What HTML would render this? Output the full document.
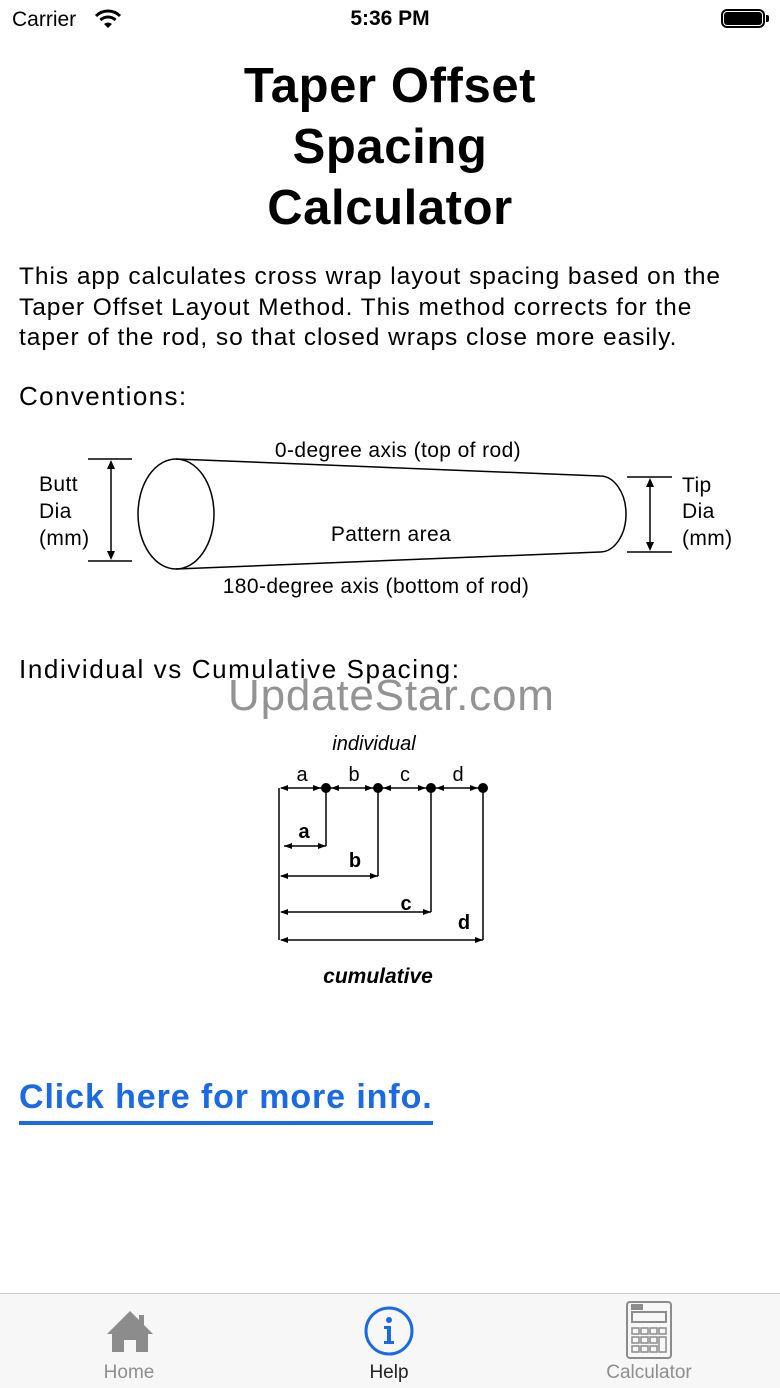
<!DOCTYPE html>
<html><head><meta charset="utf-8"><style>
*{margin:0;padding:0}
body{width:780px;height:1387px;background:#fff;font-family:"Liberation Sans",sans-serif;position:relative;overflow:hidden;color:#000}
.a{position:absolute;white-space:nowrap}
</style></head><body>
<div class="a" style="left:12px;top:8px;font-size:21px">Carrier</div>
<svg class="a" style="left:94px;top:9px" width="28" height="20" viewBox="0 0 28 20"><path d="M2 7 A17 17 0 0 1 26 7" stroke="#000" stroke-width="3" fill="none"/><path d="M6.5 11 A11 11 0 0 1 21.5 11" stroke="#000" stroke-width="3" fill="none"/><path d="M10 15 L14 19 L18 15 A6 6 0 0 0 10 15Z" fill="#000"/></svg>
<div class="a" style="left:0;width:780px;top:7px;text-align:center;font-size:21px;font-weight:bold">5:36 PM</div>
<div class="a" style="left:721px;top:9px;width:44px;height:19px;border:2px solid #000;border-radius:6px;box-sizing:border-box"></div>
<div class="a" style="left:724px;top:12px;width:38px;height:13px;background:#000;border-radius:3px"></div>
<div class="a" style="left:766px;top:15px;width:3px;height:7px;background:#000;border-radius:0 2px 2px 0"></div>

<div class="a" style="left:0;width:780px;top:56px;text-align:center;font-size:49px;font-weight:bold;line-height:61px;letter-spacing:0.6px">Taper Offset<br>Spacing<br>Calculator</div>
<div class="a" style="left:19px;top:262px;font-size:24.5px;line-height:30.5px;letter-spacing:0.95px">This app calculates cross wrap layout spacing based on the<br>Taper Offset Layout Method. This method corrects for the<br>taper of the rod, so that closed wraps close more easily.</div>
<div class="a" style="left:19px;top:381px;font-size:26px;letter-spacing:1.4px">Conventions:</div>

<svg class="a" style="left:0;top:430px" width="780" height="180" viewBox="0 430 780 180" font-family="Liberation Sans,sans-serif" font-size="21" letter-spacing="0.4">
<g stroke="#000" stroke-width="1.5" fill="none">
<ellipse cx="176" cy="514" rx="38" ry="55"/>
<path d="M176 459 L600 476 A26 38 0 0 1 600 552 L176 569"/>
<path d="M88 459 H132 M88 561 H132 M111 462 V558"/>
<path d="M627 477 H672 M627 552 H672 M650 480 V549"/>
</g>
<g fill="#000"><path d="M111 460 l-4 9 h8z M111 560 l-4 -9 h8z M650 478 l-4 9 h8z M650 551 l-4 -9 h8z"/></g>
<text x="398" y="457" text-anchor="middle">0-degree axis (top of rod)</text>
<text x="391" y="541" text-anchor="middle">Pattern area</text>
<text x="376" y="593" text-anchor="middle">180-degree axis (bottom of rod)</text>
<text x="39" y="491">Butt</text><text x="39" y="518">Dia</text><text x="39" y="545">(mm)</text>
<text x="682" y="492">Tip</text><text x="682" y="518">Dia</text><text x="682" y="545">(mm)</text>
</svg>

<div class="a" style="left:19px;top:654px;font-size:26px;letter-spacing:1.6px">Individual vs Cumulative Spacing:</div>
<div class="a" style="left:228px;top:671px;font-size:44px;color:#888;opacity:.9;letter-spacing:0.8px">UpdateStar.com</div>

<svg class="a" style="left:0;top:720px" width="780" height="280" viewBox="0 720 780 280" font-family="Liberation Sans,sans-serif">
<g stroke="#000" stroke-width="1.5" fill="none">
<path d="M279 788 V940 M326 788 V846 M378 788 V876 M431 788 V912 M483 788 V940"/>
<path d="M281 788 H324 M330 788 H376 M382 788 H429 M435 788 H481"/>
<path d="M284 846 H326 M281 876 H378 M281 912 H431 M281 940 H483"/>
</g>
<g fill="#000">
<circle cx="326" cy="788" r="5"/><circle cx="378" cy="788" r="5"/><circle cx="431" cy="788" r="5"/><circle cx="483" cy="788" r="5"/>
<path d="M280 788 l8 -3 v6z M321 788 l-8 -3 v6z M331 788 l8 -3 v6z M373 788 l-8 -3 v6z M383 788 l8 -3 v6z M426 788 l-8 -3 v6z M436 788 l8 -3 v6z M478 788 l-8 -3 v6z"/>
<path d="M284 846 l8 -3 v6z M326 846 l-8 -3 v6z M280 876 l8 -3 v6z M378 876 l-8 -3 v6z M280 912 l8 -3 v6z M431 912 l-8 -3 v6z M280 940 l8 -3 v6z M483 940 l-8 -3 v6z"/>
</g>
<text x="374" y="750" text-anchor="middle" font-size="20" font-style="italic">individual</text>
<g font-size="20" text-anchor="middle"><text x="302" y="781">a</text><text x="354" y="781">b</text><text x="405" y="781">c</text><text x="458" y="781">d</text></g>
<g font-size="20" font-weight="bold" text-anchor="middle"><text x="304" y="838">a</text><text x="355" y="867">b</text><text x="406" y="910">c</text><text x="464" y="929">d</text></g>
<text x="378" y="983" text-anchor="middle" font-size="21" font-weight="bold" font-style="italic">cumulative</text>
</svg>

<div class="a" style="left:19px;top:1078px;font-size:34px;font-weight:bold;color:#1a6ae6;letter-spacing:0.9px">Click here for more info.</div>
<div class="a" style="left:19px;top:1121px;width:414px;height:4px;background:#1a6ae6"></div>

<div class="a" style="left:0;top:1293px;width:780px;height:94px;background:#f7f7f7;border-top:1px solid #ccc"></div>
<svg class="a" style="left:104px;top:1308px" width="52" height="46" viewBox="0 0 52 46"><path d="M26 3 L49 26 L44 26 L44 44 L32 44 L32 32 L20 32 L20 44 L8 44 L8 26 L3 26Z" fill="#8c8c8c"/><rect x="35" y="7" width="5" height="10" fill="#8c8c8c"/></svg>
<div class="a" style="left:0;width:258px;top:1362px;text-align:center;font-size:19px;color:#8e8e8e">Home</div>
<svg class="a" style="left:362px;top:1304px" width="54" height="54"><circle cx="27" cy="27" r="23" stroke="#1a6ae6" stroke-width="3" fill="none"/><circle cx="27" cy="16" r="3" fill="#1a6ae6"/><path d="M22 22 H29 V37 H32 V40 H22 V37 H25 V25 H22Z" fill="#1a6ae6"/></svg>
<div class="a" style="left:260px;width:258px;top:1362px;text-align:center;font-size:19px;color:#222">Help</div>
<svg class="a" style="left:625px;top:1300px" width="48" height="60" viewBox="0 0 48 60" stroke="#8c8c8c" fill="none" stroke-width="2"><rect x="2" y="2" width="44" height="56" rx="3"/><rect x="7" y="12" width="34" height="10"/><rect x="7" y="5" width="10" height="4" fill="#8c8c8c"/><g stroke-width="1.5"><rect x="7" y="28" width="7" height="6"/><rect x="16" y="28" width="7" height="6"/><rect x="25" y="28" width="7" height="6"/><rect x="34" y="28" width="7" height="6"/><rect x="7" y="37" width="7" height="6"/><rect x="16" y="37" width="7" height="6"/><rect x="25" y="37" width="7" height="6"/><rect x="7" y="46" width="7" height="6"/><rect x="16" y="46" width="7" height="6"/><rect x="25" y="46" width="7" height="6"/><rect x="34" y="37" width="7" height="15"/></g></svg>
<div class="a" style="left:520px;width:258px;top:1362px;text-align:center;font-size:19px;color:#8e8e8e">Calculator</div>
</body></html>
